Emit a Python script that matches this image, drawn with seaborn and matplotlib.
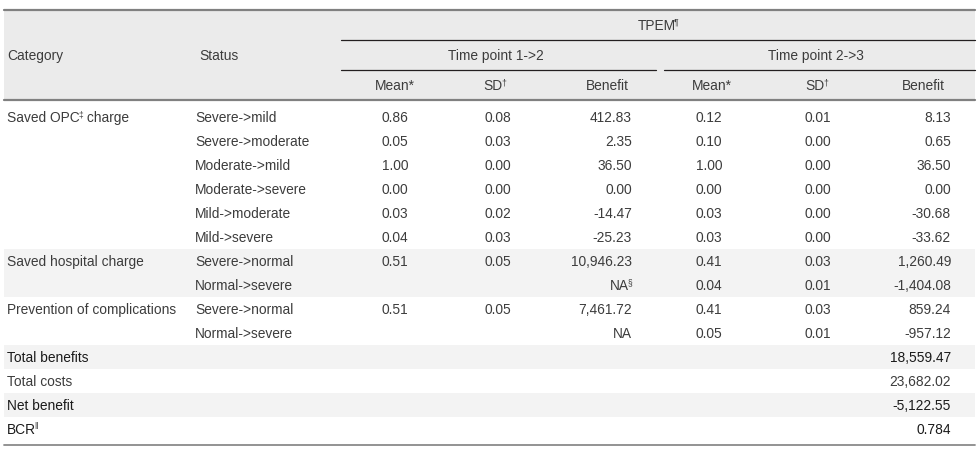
import matplotlib
matplotlib.use("Agg")
import matplotlib.pyplot as plt
import seaborn as sns

# ---------------- data ----------------
category = ["Saved OPC|‡| charge", "", "", "", "", "",
            "Saved hospital charge", "", "Prevention of complications", ""]
status = ["Severe->mild", "Severe->moderate", "Moderate->mild", "Moderate->severe",
          "Mild->moderate", "Mild->severe", "Severe->normal", "Normal->severe",
          "Severe->normal", "Normal->severe"]
mean12 = [0.86, 0.05, 1.00, 0.00, 0.03, 0.04, 0.51, None, 0.51, None]
sd12 = [0.08, 0.03, 0.00, 0.00, 0.02, 0.03, 0.05, None, 0.05, None]
benefit12 = [412.83, 2.35, 36.50, 0.00, -14.47, -25.23, 10946.23, "NA|§", 7461.72, "NA"]
mean23 = [0.12, 0.10, 1.00, 0.00, 0.03, 0.03, 0.41, 0.04, 0.41, 0.05]
sd23 = [0.01, 0.00, 0.00, 0.00, 0.00, 0.00, 0.03, 0.01, 0.03, 0.01]
benefit23 = [8.13, 0.65, 36.50, 0.00, -30.68, -33.62, 1260.49, -1404.08, 859.24, -957.12]
summary_labels = ["Total benefits", "Total costs", "Net benefit", "BCR|‖"]
summary_values = ["18,559.47", "23,682.02", "-5,122.55", "0.784"]
header_top = "TPEM|¶"
header_periods = ["Time point 1->2", "Time point 2->3"]
header_cols = ["Mean*", "SD|†", "Benefit"]

# ---------------- style ----------------
sns.set_theme(style="white")
plt.rcParams["font.family"] = ["Liberation Sans", "DejaVu Sans"]

W, H = 978, 453
fig = plt.figure(figsize=(W / 100, H / 100), dpi=100)
ax = fig.add_axes([0, 0, 1, 1])
ax.set_xlim(0, W)
ax.set_ylim(H, 0)
ax.axis("off")
renderer = fig.canvas.get_renderer()

FS = 9.9
TXT = "#3c3c3c"
DARK = "#1a1a1a"
HEAD_BG = "#ebebeb"
ROW_BG = "#f3f3f3"
X0, X1 = 4, 975


def parse(s):
    # "base|sup|rest" -> parts
    if s is None:
        return []
    bits = s.split("|")
    parts = []
    for i, b in enumerate(bits):
        if b:
            parts.append((b, i % 2 == 1))
    return parts


def width(s, size):
    t = ax.text(0, 0, s, fontsize=size)
    bb = t.get_window_extent(renderer=renderer)
    t.remove()
    return bb.width


def rich(x, yc, s, ha="left", color=TXT):
    parts = parse(s)
    if not parts:
        return
    sizes = [FS * 0.62 if sup else FS for _, sup in parts]
    ws = [width(p, sz) for (p, _), sz in zip(parts, sizes)]
    # tighten the gap before superscripts
    ws = [w - (1.5 if (k + 1 < len(parts) and parts[k + 1][1]) else 0)
          for k, w in enumerate(ws)]
    total = sum(ws)
    if ha == "right":
        cx = x - total
    elif ha == "center":
        cx = x - total / 2
    else:
        cx = x
    base = yc + 5
    for (p, sup), sz, w in zip(parts, sizes, ws):
        ax.text(cx, base - (5 if sup else 0), p, fontsize=sz, color=color,
                ha="left", va="baseline")
        cx += w


def fmt(v, dec=2):
    if v is None:
        return None
    if isinstance(v, str):
        return v
    return f"{v:,.{dec}f}"


# ---------------- header ----------------
ax.fill_between([X0, X1], 10, 99.5, color=HEAD_BG, lw=0)
ax.plot([X0, X1], [10, 10], color="#808080", lw=1.6)
ax.plot([341, X1], [40, 40], color="#231f20", lw=0.9)
ax.plot([341, 656], [70, 70], color="#231f20", lw=0.9)
ax.plot([664, X1], [70, 70], color="#231f20", lw=0.9)

rich(7, 55, "Category")
rich(199, 55, "Status")
rich(658, 25, header_top, ha="center")
rich(496, 55, header_periods[0], ha="center")
rich(816, 55, header_periods[1], ha="center")
col_centers = [[395, 495, 607], [712, 817, 923]]
for cc in col_centers:
    for xc, lab in zip(cc, header_cols):
        rich(xc, 85, lab, ha="center")

# ---------------- body ----------------
row_y = [117 + 24 * i for i in range(len(status) + len(summary_labels))]

# shaded bands
ax.fill_between([X0, X1], row_y[6] - 12, row_y[7] + 12, color=ROW_BG, lw=0)
for i in (0, 2):
    yy = row_y[len(status) + i]
    ax.fill_between([X0, X1], yy - 12, yy + 12, color=ROW_BG, lw=0)

ax.plot([X0, X1], [99.5, 99.5], color="#808080", lw=1.6)

for i in range(len(status)):
    y = row_y[i]
    rich(7, y, category[i] if category[i] else None)
    rich(195, y, status[i])
    rich(395, y, fmt(mean12[i]), ha="center")
    rich(498, y, fmt(sd12[i]), ha="center")
    rich(632, y, fmt(benefit12[i]), ha="right")
    rich(709, y, fmt(mean23[i]), ha="center")
    rich(818, y, fmt(sd23[i]), ha="center")
    rich(951, y, fmt(benefit23[i]), ha="right")

for j, (lab, val) in enumerate(zip(summary_labels, summary_values)):
    y = row_y[len(status) + j]
    col = DARK if j != 1 else TXT
    rich(7, y, lab, color=col)
    rich(951, y, val, ha="right", color=col)

ax.plot([X0, X1], [445, 445], color="#8a8a8a", lw=1.3)

fig.savefig("out.png", dpi=100)
